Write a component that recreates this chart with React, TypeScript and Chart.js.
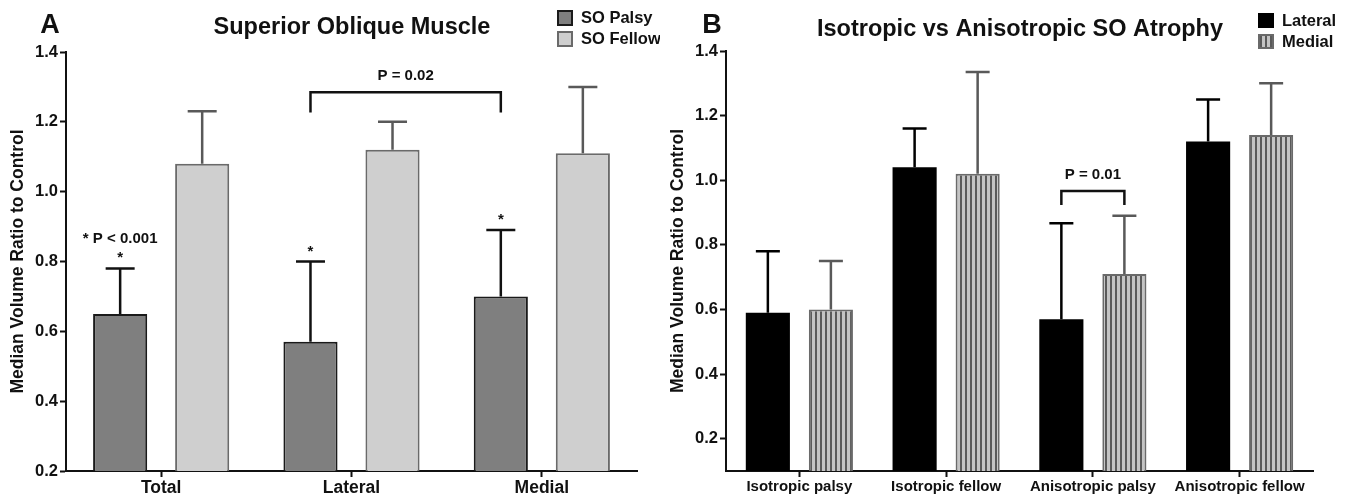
import React, { useEffect, useRef } from 'react';
import { Chart, registerables } from 'chart.js';

Chart.register(...registerables);

const FONT = '"Liberation Sans", Arial, Helvetica, sans-serif';

// ---------- Panel A data ----------
const categoriesA = ['Total', 'Lateral', 'Medial'];
const palsyMedian = [0.65, 0.57, 0.70];
const palsyUpper = [0.78, 0.80, 0.89];
const fellowMedian = [1.08, 1.12, 1.11];
const fellowUpper = [1.23, 1.20, 1.30];
const ticksA = [0.2, 0.4, 0.6, 0.8, 1.0, 1.2, 1.4];

// ---------- Panel B data ----------
const categoriesB = ['Isotropic palsy', 'Isotropic fellow', 'Anisotropic palsy', 'Anisotropic fellow'];
const lateralMedian = [0.59, 1.04, 0.57, 1.12];
const lateralUpper = [0.78, 1.16, 0.867, 1.25];
const medialMedian = [0.60, 1.02, 0.71, 1.14];
const medialUpper = [0.75, 1.335, 0.89, 1.30];
const ticksB = [0.2, 0.4, 0.6, 0.8, 1.0, 1.2, 1.4];

const Y_TITLE = 'Median Volume Ratio to Control';

function makeHatch(): CanvasPattern | string {
  const c = document.createElement('canvas');
  c.width = 5;
  c.height = 10;
  const g = c.getContext('2d');
  if (!g) return '#bbbbbb';
  g.fillStyle = '#c4c4c4';
  g.fillRect(0, 0, 5, 10);
  g.fillStyle = '#5a5a5a';
  g.fillRect(0, 0, 2, 10);
  const p = g.createPattern(c, 'repeat');
  return p || '#bbbbbb';
}

const errorBarPlugin = {
  id: 'errorBars',
  afterDatasetsDraw(chart: any) {
    const ctx = chart.ctx;
    const yScale = chart.scales.y;
    chart.data.datasets.forEach((ds: any, i: number) => {
      const upper = ds.errorUpper;
      if (!upper) return;
      const meta = chart.getDatasetMeta(i);
      ctx.save();
      ctx.strokeStyle = ds.errorColor;
      ctx.lineWidth = ds.errorWidth || 2.5;
      meta.data.forEach((el: any, j: number) => {
        const x = el.x;
        const yb = el.y;
        const yt = yScale.getPixelForValue(upper[j]);
        const half = ds.capHalf || 14;
        ctx.beginPath();
        ctx.moveTo(x, yb);
        ctx.lineTo(x, yt);
        ctx.moveTo(x - half, yt);
        ctx.lineTo(x + half, yt);
        ctx.stroke();
      });
      ctx.restore();
    });
  },
};

function drawText(ctx: CanvasRenderingContext2D, text: string, x: number, y: number, size: number, align: CanvasTextAlign = 'center', base: CanvasTextBaseline = 'middle') {
  ctx.font = `bold ${size}px ${FONT}`;
  ctx.fillStyle = '#111';
  ctx.textAlign = align;
  ctx.textBaseline = base;
  ctx.fillText(text, x, y);
}

function drawBracket(chart: any, dsA: number, iA: number, dsB: number, iB: number, yVal: number, dropVal: number, label: string) {
  const ctx = chart.ctx;
  const y = chart.scales.y;
  const x1 = chart.getDatasetMeta(dsA).data[iA].x;
  const x2 = chart.getDatasetMeta(dsB).data[iB].x;
  const yl = y.getPixelForValue(yVal);
  const yd = y.getPixelForValue(dropVal);
  ctx.save();
  ctx.strokeStyle = '#111';
  ctx.lineWidth = 2.5;
  ctx.beginPath();
  ctx.moveTo(x1, yd);
  ctx.lineTo(x1, yl);
  ctx.lineTo(x2, yl);
  ctx.lineTo(x2, yd);
  ctx.stroke();
  drawText(ctx, label, (x1 + x2) / 2, yl - 16, 15);
  ctx.restore();
}

const annotA = {
  id: 'annotA',
  afterDraw(chart: any) {
    const ctx = chart.ctx;
    const y = chart.scales.y;
    ctx.save();
    drawText(ctx, 'A', 50, 26, 27);
    drawText(ctx, 'Superior Oblique Muscle', 352, 28, 23.5);
    // legend
    const items = [
      { t: 'SO Palsy', fill: '#7f7f7f', stroke: '#1a1a1a', yy: 10 },
      { t: 'SO Fellow', fill: '#cfcfcf', stroke: '#6a6a6a', yy: 31 },
    ];
    items.forEach((it) => {
      ctx.fillStyle = it.fill;
      ctx.fillRect(557, it.yy, 16, 16);
      ctx.strokeStyle = it.stroke;
      ctx.lineWidth = 2;
      ctx.strokeRect(558, it.yy + 1, 14, 14);
      drawText(ctx, it.t, 581, it.yy + 8.5, 16.5, 'left');
    });
    // significance stars
    const meta = chart.getDatasetMeta(0);
    meta.data.forEach((el: any, j: number) => {
      const yt = y.getPixelForValue(palsyUpper[j]);
      drawText(ctx, '*', el.x, yt - 6, 15, 'center', 'alphabetic');
      if (j === 0) drawText(ctx, '* P < 0.001', el.x, yt - 30, 15);
    });
    drawBracket(chart, 0, 1, 0, 2, 1.285, 1.227, 'P = 0.02');
    ctx.restore();
  },
};

const annotB = {
  id: 'annotB',
  afterDraw(chart: any) {
    const ctx = chart.ctx;
    ctx.save();
    drawText(ctx, 'B', 52, 26, 27);
    drawText(ctx, 'Isotropic vs Anisotropic SO Atrophy', 360, 30, 23.5);
    // legend
    ctx.fillStyle = '#000';
    ctx.fillRect(598, 13, 16, 15);
    drawText(ctx, 'Lateral', 622, 21, 16.5, 'left');
    ctx.fillStyle = chart.data.datasets[1].backgroundColor;
    ctx.fillRect(598, 34, 16, 15);
    ctx.strokeStyle = '#6a6a6a';
    ctx.lineWidth = 2;
    ctx.strokeRect(599, 35, 14, 13);
    drawText(ctx, 'Medial', 622, 42, 16.5, 'left');
    drawBracket(chart, 0, 2, 1, 2, 0.967, 0.923, 'P = 0.01');
    ctx.restore();
  },
};

function axisCommon(tickSize: number) {
  return {
    border: { display: true, color: '#111', width: 2 },
    grid: {
      display: true,
      drawOnChartArea: false,
      drawTicks: true,
      tickLength: 6,
      tickColor: '#111',
      tickWidth: 2,
      offset: false,
    },
    ticks: {
      color: '#111',
      font: { family: FONT, size: tickSize, weight: 'bold' as const },
      padding: 2,
    },
  };
}

function yAxis(min: number, max: number, tickVals: number[]) {
  const c = axisCommon(16.5);
  return {
    ...c,
    min,
    max,
    afterBuildTicks: (axis: any) => {
      axis.ticks = tickVals.map((v) => ({ value: v }));
    },
    afterFit: (axis: any) => {
      axis.width = 66;
    },
    ticks: { ...c.ticks, callback: (v: any) => Number(v).toFixed(1) },
    title: {
      display: true,
      text: Y_TITLE,
      color: '#111',
      font: { family: FONT, size: 17.5, weight: 'bold' as const },
      padding: { top: 8, bottom: 0 },
    },
  };
}

function xAxis(size: number) {
  const c = axisCommon(size);
  return {
    ...c,
    afterFit: (axis: any) => {
      axis.height = 27;
    },
    ticks: { ...c.ticks, maxRotation: 0, autoSkip: false, padding: 1 },
  };
}

export default function App() {
  const refA = useRef<HTMLCanvasElement>(null);
  const refB = useRef<HTMLCanvasElement>(null);

  useEffect(() => {
    if (!refA.current || !refB.current) return;
    const hatch = makeHatch();
    const chartA = new Chart(refA.current, {
      type: 'bar',
      data: {
        labels: categoriesA,
        datasets: [
          {
            label: 'SO Palsy',
            data: palsyMedian,
            backgroundColor: '#7f7f7f',
            borderColor: '#1a1a1a',
            borderWidth: 2,
            borderSkipped: 'bottom',
            categoryPercentage: 0.862,
            barPercentage: 0.66,
            errorUpper: palsyUpper,
            errorColor: '#111',
            capHalf: 14.5,
          } as any,
          {
            label: 'SO Fellow',
            data: fellowMedian,
            backgroundColor: '#cfcfcf',
            borderColor: '#6a6a6a',
            borderWidth: 2,
            borderSkipped: 'bottom',
            categoryPercentage: 0.862,
            barPercentage: 0.66,
            errorUpper: fellowUpper,
            errorColor: '#595959',
            capHalf: 14.5,
          } as any,
        ],
      },
      options: {
        animation: false,
        responsive: false,
        maintainAspectRatio: false,
        layout: { padding: { left: 0, right: 23, top: 52, bottom: 0 } },
        plugins: { legend: { display: false }, tooltip: { enabled: false } },
        scales: {
          x: xAxis(17.5) as any,
          y: yAxis(0.2, 1.4, ticksA) as any,
        },
      },
      plugins: [errorBarPlugin, annotA],
    });

    const chartB = new Chart(refB.current, {
      type: 'bar',
      data: {
        labels: categoriesB,
        datasets: [
          {
            label: 'Lateral',
            data: lateralMedian,
            backgroundColor: '#000',
            borderColor: '#000',
            borderWidth: 0,
            categoryPercentage: 0.859,
            barPercentage: 0.7,
            errorUpper: lateralUpper,
            errorColor: '#000',
            capHalf: 12,
          } as any,
          {
            label: 'Medial',
            data: medialMedian,
            backgroundColor: hatch,
            borderColor: '#6a6a6a',
            borderWidth: 2,
            borderSkipped: 'bottom',
            categoryPercentage: 0.859,
            barPercentage: 0.7,
            errorUpper: medialUpper,
            errorColor: '#595959',
            capHalf: 12,
          } as any,
        ],
      },
      options: {
        animation: false,
        responsive: false,
        maintainAspectRatio: false,
        layout: { padding: { left: 0, right: 36, top: 51, bottom: 0 } },
        plugins: { legend: { display: false }, tooltip: { enabled: false } },
        scales: {
          x: xAxis(15) as any,
          y: yAxis(0.1, 1.4, ticksB) as any,
        },
      },
      plugins: [errorBarPlugin, annotB],
    });

    return () => {
      chartA.destroy();
      chartB.destroy();
    };
  }, []);

  return (
    <div style={{ position: 'fixed', left: 0, top: 0, width: 1349, height: 498, background: '#fff' }}>
      <canvas ref={refA} width={660} height={498} style={{ position: 'absolute', left: 0, top: 0, width: 660, height: 498 }} />
      <canvas ref={refB} width={689} height={498} style={{ position: 'absolute', left: 660, top: 0, width: 689, height: 498 }} />
    </div>
  );
}
